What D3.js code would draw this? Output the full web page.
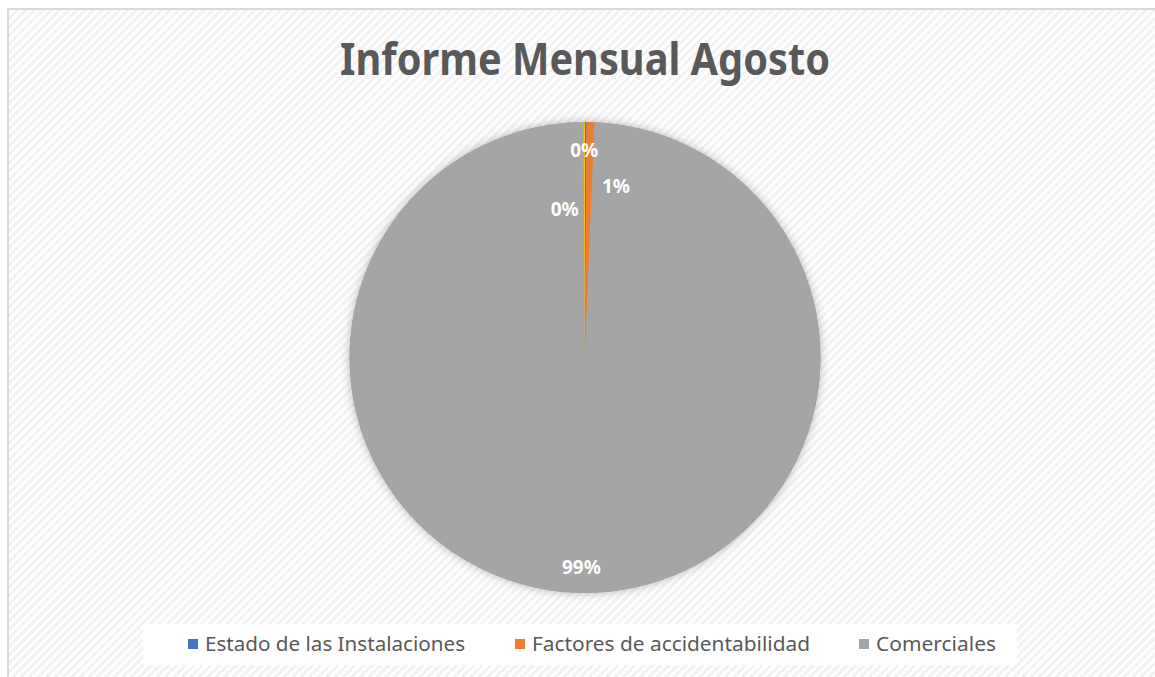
<!DOCTYPE html>
<html>
<head>
<meta charset="utf-8">
<script src="https://cdn.jsdelivr.net/npm/d3@7"></script>
<style>
  html, body { margin: 0; padding: 0; background: #fff; }
  svg { display: block; }
</style>
</head>
<body>
<svg id="chart" width="1155" height="677"></svg>
<script>
const title = 'Informe Mensual Agosto';
const categories = ['Estado de las Instalaciones', 'Factores de accidentabilidad', 'Comerciales', ''];
const values = [2, 11, 1985, 2];
const colors = ['#4472c4', '#ed7d31', '#a5a5a5', '#ffc000'];
// only the named series show in the legend
const legendItems = [0, 1, 2];

// label placement (excel "best fit" moved the tiny ones): angle shift in deg, radius in px
const labelPos = [
  { da: -0.4, r: 207 },
  { da: 8.9, r: 174 },
  { da: 0, r: 210 },
  { da: -7.6, r: 150 }
];

const width = 1155;
const height = 677;
const cx = 585, cy = 357.5, radius = 235.5;

const svg = d3.select('#chart');
const defs = svg.append('defs');

const pat = defs.append('pattern')
  .attr('id', 'stripes')
  .attr('patternUnits', 'userSpaceOnUse')
  .attr('width', 6)
  .attr('height', 6)
  .attr('patternTransform', 'rotate(45)');
pat.append('rect').attr('width', 6).attr('height', 6).attr('fill', '#ffffff');
pat.append('rect').attr('width', 3).attr('height', 6).attr('fill', '#f3f3f3');

const shadow = defs.append('filter')
  .attr('id', 'shadow')
  .attr('x', '-10%').attr('y', '-10%')
  .attr('width', '120%').attr('height', '120%');
shadow.append('feDropShadow')
  .attr('dx', 0).attr('dy', 0)
  .attr('stdDeviation', 5)
  .attr('flood-color', '#000')
  .attr('flood-opacity', 0.28);

// chart area background + frame
svg.append('rect')
  .attr('x', 8).attr('y', 9)
  .attr('width', width + 20).attr('height', height + 20)
  .attr('fill', 'url(#stripes)')
  .attr('stroke', '#d9d9d9')
  .attr('stroke-width', 2);

svg.append('text')
  .attr('x', cx)
  .attr('y', 75)
  .attr('text-anchor', 'middle')
  .attr('font-family', '"Noto Sans", "Open Sans", sans-serif')
  .attr('font-weight', 'bold')
  .attr('font-size', 44)
  .attr('fill', '#595959')
  .attr('textLength', 490)
  .attr('lengthAdjust', 'spacingAndGlyphs')
  .text(title);

const total = d3.sum(values);
const pie = d3.pie().sort(null).value(d => d)(values);
const arc = d3.arc().innerRadius(0).outerRadius(radius);

const pieG = svg.append('g')
  .attr('transform', `translate(${cx},${cy})`);

pieG.append('circle')
  .attr('r', radius)
  .attr('fill', colors[2])
  .attr('filter', 'url(#shadow)');

pieG.selectAll('path')
  .data(pie)
  .join('path')
  .attr('d', arc)
  .attr('fill', (d, i) => colors[i]);

pieG.selectAll('text.lbl')
  .data(pie)
  .join('text')
  .attr('class', 'lbl')
  .attr('transform', (d, i) => {
    const a = (d.startAngle + d.endAngle) / 2 + labelPos[i].da * Math.PI / 180;
    const r = labelPos[i].r;
    return `translate(${r * Math.sin(a)},${-r * Math.cos(a)})`;
  })
  .attr('text-anchor', 'middle')
  .attr('dy', '0.35em')
  .attr('font-family', '"Noto Sans", "Open Sans", sans-serif')
  .attr('font-weight', 'bold')
  .attr('font-size', 19)
  .attr('fill', '#ffffff')
  .text(d => Math.round(d.value / total * 100) + '%');

// legend
const legendX = [188, 515, 859];
const legendW = [260, 278, 120];
const legendY = 644;

svg.append('rect')
  .attr('x', 143).attr('y', 624)
  .attr('width', 874).attr('height', 41)
  .attr('fill', '#ffffff');

const lg = svg.append('g')
  .selectAll('g')
  .data(legendItems)
  .join('g')
  .attr('transform', (d, i) => `translate(${legendX[i]},${legendY})`);

lg.append('rect')
  .attr('x', 0).attr('y', -5)
  .attr('width', 10).attr('height', 10)
  .attr('fill', d => colors[d]);

lg.append('text')
  .attr('x', 17)
  .attr('dy', '0.35em')
  .attr('font-family', '"Noto Sans", "Open Sans", sans-serif')
  .attr('font-size', 19)
  .attr('fill', '#595959')
  .attr('textLength', (d, i) => legendW[i])
  .attr('lengthAdjust', 'spacingAndGlyphs')
  .text(d => categories[d]);
</script>
</body>
</html>
